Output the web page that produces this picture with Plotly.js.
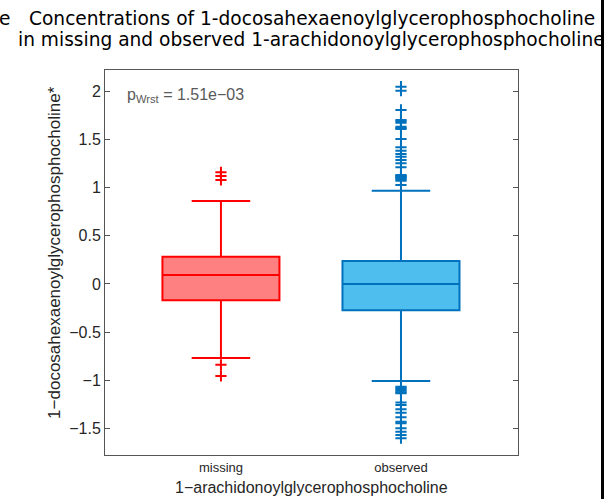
<!DOCTYPE html>
<html>
<head>
<meta charset="utf-8">
<script src="https://cdn.plot.ly/plotly-3.0.1.min.js"></script>
<style>
  html, body { margin: 0; padding: 0; background: #fff; }
  #wrap { position: relative; width: 604px; height: 499px; overflow: hidden; }
  #chart { width: 604px; height: 499px; }
  #edge { position: absolute; left: 601px; top: 0; width: 3px; height: 499px; background: #000; }
</style>
</head>
<body>
<div id="wrap">
  <div id="chart"></div>
  <div id="edge"></div>
</div>
<script>
// Group labels
const categories = ['missing', 'observed'];

// Box statistics per group
const q1 = [-0.17, -0.273];
const medians = [0.093, 0.0];
const q3 = [0.284, 0.239];
const lowerWhisker = [-0.77, -1.007];
const upperWhisker = [0.862, 0.969];

// Points beyond the whiskers
const outliersMissing = [1.16, 1.12, 1.08, -0.84, -0.955];
const outliersObserved = [
  2.049, 2.007, 1.807, 1.703, 1.69, 1.675, 1.633, 1.62, 1.609, 1.506,
  1.419, 1.384, 1.35, 1.322, 1.288, 1.253, 1.212, 1.132, 1.122, 1.114,
  1.105, 1.097, 1.085, 1.073, 1.028,
  -1.066, -1.08, -1.095, -1.11, -1.125, -1.135, -1.232, -1.257, -1.301,
  -1.336, -1.384, -1.43, -1.447, -1.499, -1.534, -1.568, -1.602
];

const titleLines = [
  'Concentrations of 1-docosahexaenoylglycerophosphocholine',
  'in missing and observed 1-arachidonoylglycerophosphocholine'
];
const xTitle = '1\u2212arachidonoylglycerophosphocholine';
const yTitle = '1\u2212docosahexaenoylglycerophosphocholine*';
const pLabel = 'p<sub>Wrst</sub> = 1.51e\u221203';

const lineColors = ['#ff0000', '#0072bd'];
const fillColors = ['#ff8080', '#4dbeee'];
const outlierSets = [outliersMissing, outliersObserved];

const traces = [];
categories.forEach((cat, i) => {
  traces.push({
    type: 'box',
    x: [cat],
    q1: [q1[i]],
    median: [medians[i]],
    q3: [q3[i]],
    lowerfence: [lowerWhisker[i]],
    upperfence: [upperWhisker[i]],
    boxpoints: false,
    width: 0.65,
    whiskerwidth: 0.5,
    fillcolor: fillColors[i],
    line: { color: lineColors[i], width: 2 },
    hoverinfo: 'skip',
    showlegend: false
  });
  traces.push({
    type: 'scatter',
    mode: 'markers',
    x: outlierSets[i].map(() => cat),
    y: outlierSets[i],
    marker: { symbol: 'cross-thin', size: 8, line: { color: lineColors[i], width: 2 } },
    hoverinfo: 'skip',
    showlegend: false
  });
});

const sans = 'Liberation Sans, Arial, sans-serif';
const titleFont = { family: 'DejaVu Sans, Verdana, sans-serif', size: 18.6, color: '#000' };
const labelFont = { family: sans, size: 17, color: '#262626' };

function note(text, x, y, font, extra) {
  return Object.assign({
    text: text, xref: 'paper', yref: 'paper', x: x, y: y,
    xanchor: 'center', yanchor: 'middle', showarrow: false, font: font
  }, extra || {});
}

const layout = {
  width: 604,
  height: 499,
  margin: { l: 105, r: 86, t: 70, b: 44 },
  paper_bgcolor: '#ffffff',
  plot_bgcolor: '#ffffff',
  boxmode: 'overlay',
  xaxis: {
    type: 'category',
    range: [-0.644, 1.65],
    showgrid: false,
    zeroline: false,
    showline: true,
    mirror: true,
    linecolor: '#555',
    linewidth: 1,
    ticks: '',
    tickfont: { family: sans, size: 13, color: '#262626' }
  },
  yaxis: {
    range: [-1.776, 2.222],
    tickvals: [-1.5, -1, -0.5, 0, 0.5, 1, 1.5, 2],
    ticktext: ['\u22121.5', '\u22121', '\u22120.5', '0', '0.5', '1', '1.5', '2'],
    showgrid: false,
    zeroline: false,
    showline: true,
    mirror: 'ticks',
    linecolor: '#555',
    linewidth: 1,
    ticks: 'inside',
    ticklen: 5,
    tickcolor: '#555',
    tickfont: { family: sans, size: 16, color: '#262626' }
  },
  annotations: [
    note(titleLines[0], 0.5, 1.135, titleFont),
    note(titleLines[1], 0.5, 1.078, titleFont),
    note('e', -0.262, 1.135, titleFont, { xanchor: 'left' }),
    note(xTitle, 0.5, -0.0857, { family: sans, size: 16, color: '#262626' }),
    note(yTitle, -0.121, 0.525, labelFont, { textangle: -90 }),
    note(pLabel, 0.048, 0.935, { family: sans, size: 16, color: '#595959' }, { xanchor: 'left' })
  ]
};

Plotly.newPlot('chart', traces, layout, { displayModeBar: false, staticPlot: true });
</script>
</body>
</html>
